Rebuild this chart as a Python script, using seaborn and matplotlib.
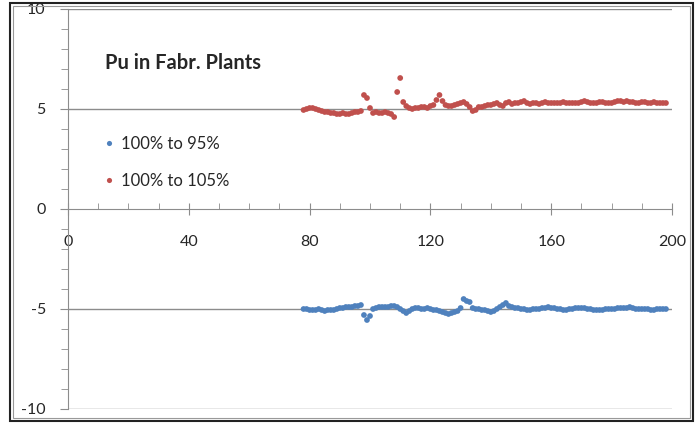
import numpy as np
import pandas as pd
import seaborn as sns
import matplotlib.pyplot as plt
from matplotlib.patches import Rectangle
from matplotlib.ticker import MultipleLocator

# steps 78..198
x_vals = list(range(78, 199))

up_105 = [4.95, 5.0, 5.05, 5.05, 5.0, 4.95, 4.9, 4.85, 4.85, 4.8,
          4.8, 4.75, 4.75, 4.8, 4.75, 4.75, 4.8, 4.85, 4.85, 4.9,
          5.7, 5.55, 5.05, 4.8, 4.85, 4.8, 4.8, 4.85, 4.8, 4.75,
          4.6, 5.85, 6.55, 5.35, 5.15, 5.05, 5.0, 5.05, 5.05, 5.1,
          5.1, 5.05, 5.15, 5.2, 5.45, 5.7, 5.4, 5.2, 5.15, 5.15,
          5.2, 5.25, 5.3, 5.35, 5.25, 5.1, 4.9, 4.95, 5.1, 5.1,
          5.15, 5.2, 5.2, 5.25, 5.3, 5.2, 5.15, 5.3, 5.35, 5.25,
          5.3, 5.3, 5.35, 5.4, 5.3, 5.25, 5.3, 5.3, 5.25, 5.3,
          5.35, 5.3, 5.3, 5.3, 5.3, 5.3, 5.35, 5.3, 5.3, 5.3,
          5.3, 5.3, 5.35, 5.4, 5.35, 5.3, 5.3, 5.3, 5.35, 5.35,
          5.3, 5.3, 5.3, 5.35, 5.4, 5.4, 5.35, 5.4, 5.35, 5.35,
          5.3, 5.3, 5.35, 5.35, 5.3, 5.3, 5.35, 5.3, 5.3, 5.3,
          5.3]

down_95 = [-5.0, -5.0, -5.05, -5.05, -5.05, -5.0, -5.05, -5.1, -5.05, -5.05,
           -5.05, -5.0, -4.95, -4.95, -4.9, -4.9, -4.9, -4.85, -4.85, -4.8,
           -5.3, -5.55, -5.35, -5.0, -4.95, -4.9, -4.9, -4.9, -4.9, -4.85,
           -4.85, -4.9, -5.0, -5.1, -5.2, -5.1, -5.0, -4.95, -4.95, -5.0,
           -5.0, -4.95, -5.0, -5.05, -5.05, -5.1, -5.15, -5.2, -5.25, -5.2,
           -5.15, -5.1, -4.95, -4.5, -4.6, -4.65, -4.95, -5.0, -5.0, -5.05,
           -5.05, -5.1, -5.15, -5.1, -5.0, -4.9, -4.8, -4.7, -4.85, -4.9,
           -4.95, -4.95, -5.0, -5.0, -5.05, -5.05, -5.0, -5.0, -5.0, -4.95,
           -4.95, -4.9, -4.95, -4.95, -5.0, -5.0, -5.05, -5.05, -5.0, -5.0,
           -4.95, -4.95, -4.95, -4.95, -5.0, -5.0, -5.05, -5.05, -5.05, -5.05,
           -5.0, -5.0, -5.0, -5.0, -4.95, -4.95, -4.95, -4.95, -4.9, -4.95,
           -5.0, -5.0, -5.0, -5.0, -5.0, -5.05, -5.05, -5.0, -5.0, -5.0,
           -5.0]

labels = ['100% to 95%', '100% to 105%']
colors = ['#4F81BD', '#C0504D']

df = pd.concat([
    pd.DataFrame({'x': x_vals, 'y': down_95, 'Series': labels[0]}),
    pd.DataFrame({'x': x_vals, 'y': up_105, 'Series': labels[1]}),
])

sns.set_style('white')
plt.rcParams['font.family'] = ['Lato', 'DejaVu Sans']
plt.rcParams['axes.unicode_minus'] = False

fig = plt.figure(figsize=(6.98, 4.24), dpi=100)
ax = fig.add_axes([68 / 698, 1 - 409 / 424, 604 / 698, 400 / 424])

# gridlines at +-5 / +-10
for yv in [-10, -5, 5, 10]:
    ax.axhline(yv, color='#8c8c8c', lw=1.0, zorder=1)

sns.scatterplot(data=df, x='x', y='y', hue='Series', palette=colors,
                s=17, linewidth=0, ax=ax, zorder=3)

ax.set_xlim(0, 200)
ax.set_ylim(-10, 10)
ax.set_xlabel('')
ax.set_ylabel('')

for side in ['top', 'right']:
    ax.spines[side].set_visible(False)
ax.spines['bottom'].set_position(('data', 0))
ax.spines['bottom'].set_color('#8c8c8c')
ax.spines['left'].set_color('#8c8c8c')

ax.xaxis.set_major_locator(MultipleLocator(40))
ax.xaxis.set_minor_locator(MultipleLocator(10))
ax.yaxis.set_major_locator(MultipleLocator(5))
ax.yaxis.set_minor_locator(MultipleLocator(1))
ax.tick_params(axis='x', which='major', direction='inout', length=8, color='#8c8c8c',
               pad=15, labelsize=11.5, bottom=True)
ax.tick_params(axis='x', which='minor', direction='in', length=4, color='#8c8c8c', bottom=True)
ax.tick_params(axis='y', which='major', direction='out', length=6, color='#8c8c8c',
               pad=10, labelsize=11.5, left=True)
ax.tick_params(axis='y', which='minor', direction='out', length=5, color='#8c8c8c', left=True)

ax.text(12.3, 7.3, 'Pu in Fabr. Plants', fontsize=14.5,
        fontweight='bold', ha='left', va='center')

leg = ax.legend(loc='upper left', bbox_to_anchor=(0.03, 0.72), frameon=False,
                fontsize=12, handletextpad=0.2, labelspacing=1.25, markerscale=0.9,
                handlelength=1.0)

# chart area double border
fig.patches.append(Rectangle((10 / 698, 3 / 424), 683 / 698, 418 / 424,
                             transform=fig.transFigure, fill=False,
                             edgecolor='#222222', lw=1.5))
fig.patches.append(Rectangle((13 / 698, 6 / 424), 677 / 698, 412 / 424,
                             transform=fig.transFigure, fill=False,
                             edgecolor='#999999', lw=0.8))

fig.savefig('out.png', dpi=100)
